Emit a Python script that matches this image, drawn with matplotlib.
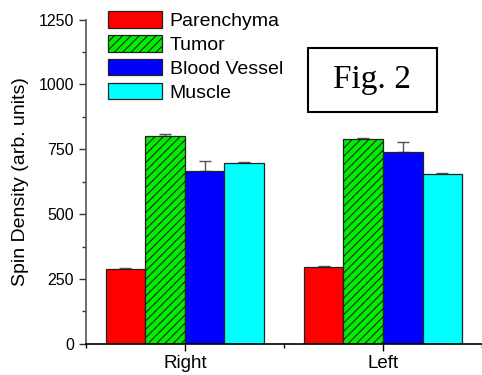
import numpy as np
import matplotlib.pyplot as plt
from matplotlib.patches import Rectangle
from matplotlib.ticker import MultipleLocator

groups = ["Right", "Left"]
tissues = ["Parenchyma", "Tumor", "Blood Vessel", "Muscle"]
colors = ["#ff0000", "#00ee00", "#0000ff", "#00ffff"]
hatches = [None, "////", None, None]

# mean spin density and upper error per tissue, for Right / Left
means = {
    "Parenchyma": [290, 295],
    "Tumor": [800, 788],
    "Blood Vessel": [667, 741],
    "Muscle": [698, 656],
}
errors = {
    "Parenchyma": [3, 4],
    "Tumor": [8, 4],
    "Blood Vessel": [39, 38],
    "Muscle": [3, 3],
}

plt.rcParams["font.family"] = ["Liberation Sans", "DejaVu Sans"]
plt.rcParams["hatch.linewidth"] = 0.8

fig = plt.figure(figsize=(4.82, 3.75), dpi=100)
ax = fig.add_axes([0.178, 0.083, 0.822, 0.865])

x = np.arange(1, len(groups) + 1)
width = 0.2
offsets = [-0.3, -0.1, 0.1, 0.3]

for name, col, h, off in zip(tissues, colors, hatches, offsets):
    ax.bar(x + off, means[name], width, color=col, edgecolor="#222222",
           linewidth=0.9, hatch=h, label=name, zorder=2)
    ax.errorbar(x + off, means[name], yerr=[np.zeros(len(groups)), errors[name]],
                fmt="none", ecolor="#555555", elinewidth=1, capsize=4.5,
                capthick=1, zorder=1)

ax.set_xlim(0.5, 2.5)
ax.set_ylim(0, 1250)
ax.set_xticks(x)
ax.set_xticklabels(groups, fontsize=13.5)
ax.xaxis.set_minor_locator(MultipleLocator(0.5))
ax.yaxis.set_major_locator(MultipleLocator(250))
ax.yaxis.set_minor_locator(MultipleLocator(125))
ax.tick_params(axis="y", labelsize=11.5, length=5, width=1, color="#333333")
ax.tick_params(axis="y", which="minor", length=3, width=1, color="#333333")
ax.tick_params(axis="x", length=5, width=1, pad=3)
ax.tick_params(axis="x", which="minor", length=3, width=1)
ax.set_ylabel("Spin Density (arb. units)", fontsize=14, labelpad=7)

ax.spines["top"].set_visible(False)
ax.spines["right"].set_visible(False)
ax.spines["left"].set_color("#555555")
ax.spines["left"].set_linewidth(1.2)
ax.spines["bottom"].set_linewidth(1.2)

ax.legend(loc="upper left", bbox_to_anchor=(0.0556, 1.026), frameon=False,
          fontsize=14, handlelength=2.78, handleheight=0.94,
          handletextpad=0.4, labelspacing=0.25, borderpad=0, borderaxespad=0)

# "Fig. 2" box
ax.add_patch(Rectangle((0.561, 0.715), 0.325, 0.197, transform=ax.transAxes,
                       fill=False, edgecolor="black", linewidth=1.5,
                       clip_on=False, zorder=3))
ax.text(0.7235, 0.8135, "Fig. 2", transform=ax.transAxes, ha="center",
        va="center", fontsize=24, family=["Liberation Serif", "DejaVu Serif"])

plt.savefig("out.png", dpi=100)
